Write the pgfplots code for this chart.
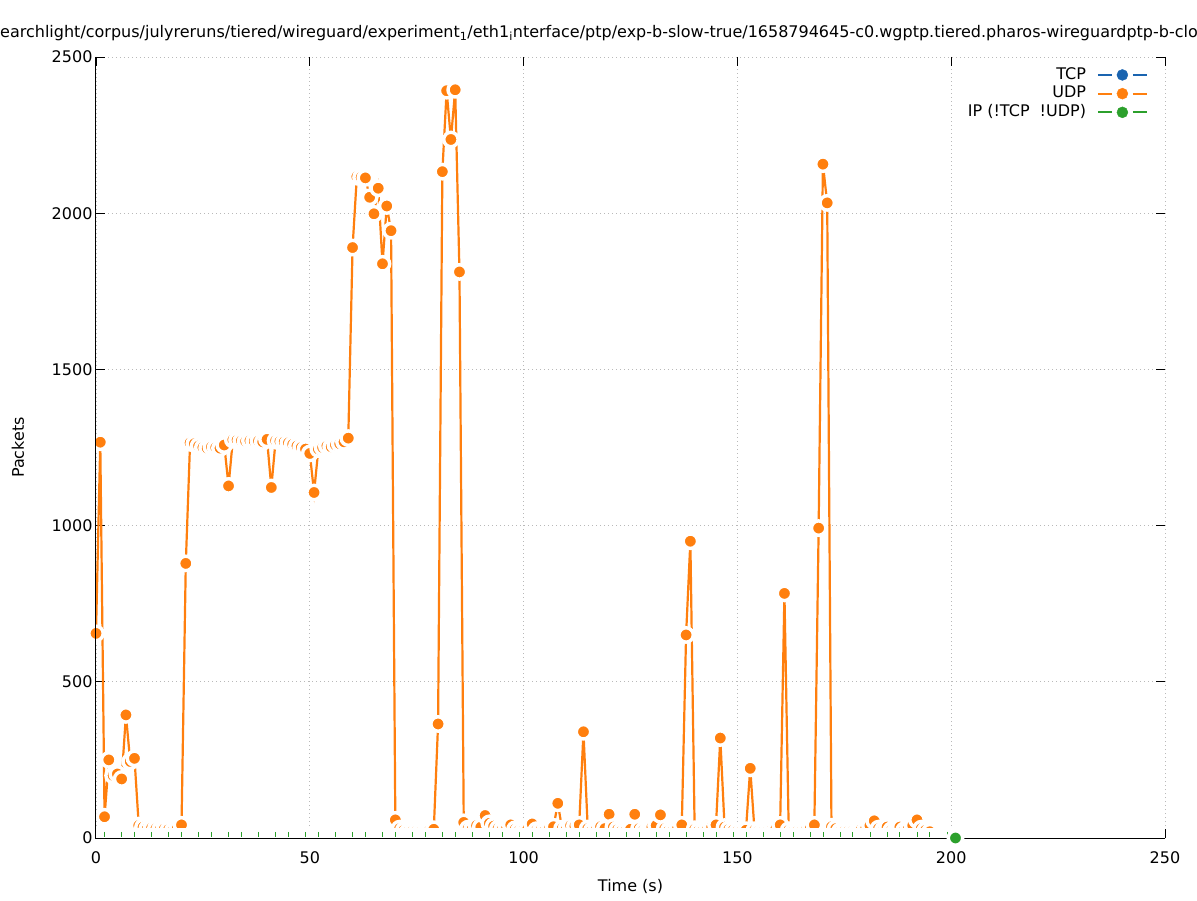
\documentclass[border=0pt]{standalone}
\usepackage{fontspec}
\setmainfont{DejaVu Sans}
\usepackage{pgfplots}
\pgfplotsset{compat=1.18}
\usepackage{pgfplotstable}
\definecolor{udp}{HTML}{FF7F0E}
\definecolor{tcp}{HTML}{1A64B0}
\definecolor{ipc}{HTML}{2CA02C}
\newcommand{\fs}{\fontsize{16}{19.2}\selectfont}
\pgfplotstableread{
t v
0 655
1 1267
2 68
3 250
4 200
5 205
6 189
7 394
8 245
9 255
10 40
11 35
12 30
13 32
14 30
15 28
16 30
17 28
18 25
19 30
20 42
21 879
22 1265
23 1262
24 1255
25 1250
26 1248
27 1252
28 1250
29 1248
30 1258
31 1127
32 1275
33 1274
34 1272
35 1270
36 1272
37 1270
38 1271
39 1268
40 1276
41 1122
42 1272
43 1270
44 1268
45 1265
46 1260
47 1255
48 1250
49 1245
50 1231
51 1106
52 1245
53 1250
54 1255
55 1252
56 1258
57 1262
58 1268
59 1280
60 1890
61 2117
62 2115
63 2113
64 2051
65 1998
66 2080
67 1838
68 2023
69 1944
70 58
71 30
72 25
73 22
74 22
75 22
76 22
77 22
78 25
79 28
80 365
81 2133
82 2392
83 2236
84 2395
85 1812
86 50
87 30
88 30
89 40
90 35
91 72
92 47
93 38
94 30
95 28
96 30
97 42
98 28
99 25
100 25
101 30
102 45
103 25
104 25
105 25
106 30
107 36
108 111
109 30
110 28
111 40
112 38
113 42
114 340
115 30
116 25
117 28
118 36
119 30
120 76
121 35
122 28
123 25
124 25
125 28
126 76
127 30
128 25
129 25
130 35
131 40
132 74
133 30
134 25
135 25
136 30
137 42
138 650
139 950
140 28
141 25
142 25
143 28
144 35
145 42
146 320
147 35
148 28
149 25
150 22
151 22
152 25
153 223
154 25
155 22
156 22
157 22
158 25
159 30
160 42
161 783
162 25
163 22
164 22
165 22
166 25
167 30
168 42
169 992
170 2157
171 2033
172 36
173 30
174 22
175 22
176 22
177 22
178 22
179 28
180 30
181 40
182 55
183 30
184 25
185 35
186 25
187 25
188 35
189 25
190 30
191 40
192 58
193 30
194 25
195 20
}\udpdata
\begin{document}
\begin{tikzpicture}
\useasboundingbox (-96pt,-62pt) rectangle (1101pt,838pt);
\node[anchor=base west, inner sep=0pt, font=\fs] at (-96pt,800pt) {earchlight/corpus/julyreruns/tiered/wireguard/experiment\textsubscript{1}/eth1\textsubscript{i}nterface/ptp/exp-b-slow-true/1658794645-c0.wgptp.tiered.pharos-wireguardptp-b-cloudlab-experiment};
\begin{axis}[
  at={(0pt,0pt)}, anchor=south west,
  scale only axis, width=1069pt, height=781pt,
  xmin=0, xmax=250, ymin=0, ymax=2500,
  clip=false, clip marker paths=true,
  xtick={0,50,...,250}, ytick={0,500,...,2500},
  tick align=inside, major tick length=9pt,
  tick style={black, line width=0.8pt},
  axis line style={draw=none},
  grid=major, grid style={gray!55, line width=0.8pt, dash pattern=on 0.8pt off 3.2pt},
  /pgf/number format/assume math mode=true,
  /pgf/number format/1000 sep={},
  ticklabel style={font=\fs},
  xticklabel style={yshift=-10pt},
  label style={font=\fs},
  xlabel={Time (s)}, ylabel={Packets},
  xlabel style={at={(axis description cs:0.5,0)}, anchor=center, yshift=-48pt},
  ylabel style={at={(axis description cs:0,0.5)}, anchor=center, yshift=78pt},
  legend plot pos=right,
  legend cell align=right,
  legend style={at={(rel axis cs:1,1)}, anchor=north east, xshift=-14pt, yshift=-7pt,
    draw=none, fill=none, font=\fs, row sep=1.2pt, column sep=10pt,
    nodes={inner sep=1pt, text height=12pt, text depth=3.5pt}},
]
\addlegendimage{legend image code/.code={
  \draw[tcp, line width=1.8pt] (0pt,0pt) -- (14pt,0pt) (35pt,0pt) -- (49pt,0pt);
  \fill[tcp] (24.5pt,0pt) circle (5.5pt);}}
\addlegendentry{TCP}
\addlegendimage{legend image code/.code={
  \draw[udp, line width=1.8pt] (0pt,0pt) -- (14pt,0pt) (35pt,0pt) -- (49pt,0pt);
  \fill[udp] (24.5pt,0pt) circle (5.5pt);}}
\addlegendentry{UDP}
\addlegendimage{legend image code/.code={
  \draw[ipc, line width=1.8pt] (0pt,0pt) -- (14pt,0pt) (35pt,0pt) -- (49pt,0pt);
  \fill[ipc] (24.5pt,0pt) circle (5.5pt);}}
\addlegendentry{IP (!TCP\hspace{10pt}!UDP)}
\addplot[udp, line width=2.2pt, mark=*, mark size=7.2pt, forget plot,
  mark options={fill=udp, draw=white, line width=3.4pt}] table[x=t,y=v] {\udpdata};
\addplot[draw=none, fill=white, forget plot] coordinates {(0,32) (201,32)} \closedcycle;
\addplot[ipc, only marks, mark=|, mark size=2.7pt, mark options={line width=0.8pt}, forget plot]
  coordinates {(2,11)(6,11)(9,11)(13,11)(17,11)(20,11)(24,11)(27,11)(31,11)(34,11)(38,11)(42,11)(45,11)(49,11)(52,11)(56,11)(60,11)(63,11)(67,11)(70,11)(74,11)(77,11)(81,11)(84,11)(88,11)(92,11)(95,11)(99,11)(102,11)(106,11)(110,11)(113,11)(117,11)(120,11)(124,11)(127,11)(131,11)(134,11)(138,11)(142,11)(145,11)(149,11)(152,11)(156,11)(160,11)(163,11)(167,11)(170,11)(174,11)(177,11)(181,11)(185,11)(188,11)(192,11)(195,11)(199,11)};
\draw[black, line width=1pt] (rel axis cs:0,1) -- (rel axis cs:0,0) -- (rel axis cs:1,0);
\addplot[ipc, line width=2.2pt, mark=*, mark size=7.2pt, forget plot,
  mark options={fill=ipc, draw=white, line width=3.4pt}] coordinates {(201,0)};
\end{axis}
\end{tikzpicture}
\end{document}
